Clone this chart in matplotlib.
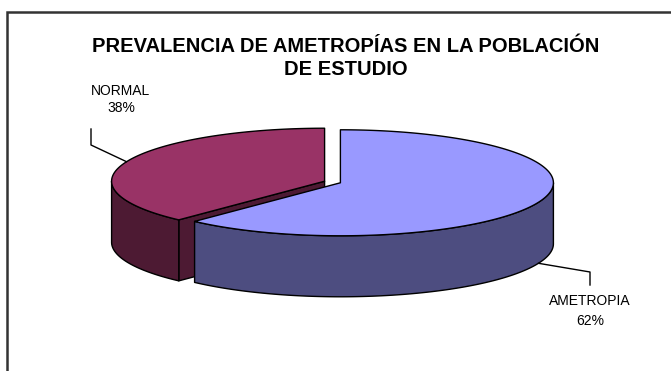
import numpy as np
import matplotlib.pyplot as plt
from matplotlib.patches import Polygon

# datos del grafico
categorias = ['AMETROPIA', 'NORMAL']
valores = [62, 38]
color_cara = ['#9999FF', '#993366']
color_lado = ['#4D4D80', '#4D1A33']
titulo = 'PREVALENCIA DE AMETROPÍAS EN LA POBLACIÓN\nDE ESTUDIO'

plt.rcParams['font.family'] = ['Liberation Sans Narrow', 'Liberation Sans', 'DejaVu Sans']

# geometria del pastel 3D (pixeles)
CX, CY = 332.5, 182.0
A, B = 213.0, 53.0     # semiejes de la elipse
D = 61.0               # grosor
SEP = 8.5              # separacion de las porciones

fig = plt.figure(figsize=(6.71, 3.71), dpi=100)
ax = fig.add_axes([0, 0, 1, 1])
ax.set_xlim(0, 671)
ax.set_ylim(371, 0)
ax.axis('off')


def punto(cx, cy, th, dz=0.0):
    # angulo en grados, horario desde las 12
    t = np.radians(th)
    return cx + A * np.sin(t), cy - B * np.cos(t) + dz


def arco(cx, cy, t1, t2, dz=0.0):
    th = np.linspace(t1, t2, max(int(abs(t2 - t1)) * 2, 2))
    x, y = punto(cx, cy, th, dz)
    return np.column_stack([x, y])


total = sum(valores)
bordes = np.concatenate([[0], np.cumsum(valores) / total * 360])

porciones = []
for i in range(len(valores)):
    t1, t2 = bordes[i], bordes[i + 1]
    medio = (t1 + t2) / 2
    m = np.radians(medio)
    cx = CX + SEP * np.sin(m)
    cy = CY - SEP * np.cos(m) * B / A
    porciones.append((cy, i, t1, t2, medio, cx))

# dibujar de atras hacia adelante
for cy, i, t1, t2, medio, cx in sorted(porciones):
    kw = dict(edgecolor='black', linewidth=1.0, joinstyle='round')
    # cara de corte visible
    for th, signo in ((t1, -1), (t2, 1)):
        if signo * np.sin(np.radians(th)) > 1e-6:
            x, y = punto(cx, cy, th)
            cara = [(cx, cy), (x, y), (x, y + D), (cx, cy + D)]
            ax.add_patch(Polygon(cara, closed=True, facecolor=color_lado[i], **kw))
    # pared exterior (mitad delantera)
    a1, a2 = max(t1, 90), min(t2, 270)
    if a2 > a1:
        arriba = arco(cx, cy, a1, a2)
        abajo = arco(cx, cy, a1, a2, D)[::-1]
        ax.add_patch(Polygon(np.vstack([arriba, abajo]), closed=True,
                             facecolor=color_lado[i], **kw))
    # cara superior
    tapa = np.vstack([[cx, cy], arco(cx, cy, t1, t2)])
    ax.add_patch(Polygon(tapa, closed=True, facecolor=color_cara[i], **kw))

# etiquetas con lineas guia
pct = [f'{v / total:.0%}' for v in valores]
cy0, _, _, _, m0, cx0 = [p for p in porciones if p[1] == 0][0]
x0, y0 = punto(cx0, cy0, m0, D)
ax.plot([x0, 590, 590], [y0, 272, 285], color='black', linewidth=1.0)
ax.text(590, 301, categorias[0], ha='center', va='center', fontsize=10)
ax.text(590, 321, pct[0], ha='center', va='center', fontsize=10)

cy1, _, _, _, m1, cx1 = [p for p in porciones if p[1] == 1][0]
x1, y1 = punto(cx1, cy1, m1)
ax.plot([91, 91, x1], [129, 145, y1], color='black', linewidth=1.0)
ax.text(121, 91, categorias[1], ha='center', va='center', fontsize=10)
ax.text(121, 108, pct[1], ha='center', va='center', fontsize=10)

ax.text(346, 58, titulo, ha='center', va='center', fontsize=14.5,
        fontweight='bold', linespacing=1.3)

# marco del area del grafico
ax.plot([7, 7, 680], [380, 12, 12], color='#333333', linewidth=1.8,
        solid_joinstyle='miter')

fig.savefig('out.png', dpi=100)
